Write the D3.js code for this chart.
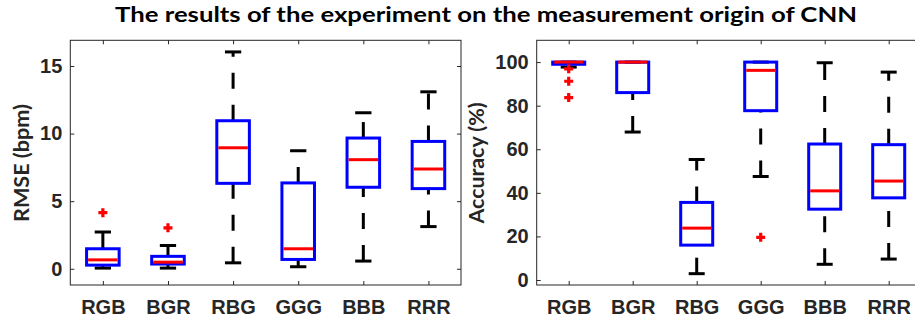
<!DOCTYPE html>
<html>
<head>
<meta charset="utf-8">
<script src="https://cdn.jsdelivr.net/npm/d3@7"></script>
<style>
  body { margin: 0; background: #fff; }
  svg { display: block; font-family: Lato, "Open Sans", sans-serif; }
  .tick text { font-size: 20px; font-weight: bold; fill: #262626; }
</style>
</head>
<body>
<svg id="chart"></svg>
<script>
// categories
const categories = ['RGB', 'BGR', 'RBG', 'GGG', 'BBB', 'RRR'];

// RMSE (bpm) box stats
const rmseLo  = [0.05, 0.05, 0.44, 0.15, 0.57, 3.12];
const rmseQ1  = [0.27, 0.35, 6.32, 0.69, 6.03, 5.93];
const rmseMed = [0.66, 0.49, 8.95, 1.48, 8.07, 7.38];
const rmseQ3  = [1.48, 0.92, 10.95, 6.35, 9.67, 9.42];
const rmseHi  = [2.72, 1.72, 16.04, 8.73, 11.54, 13.09];
const rmseOut = [[4.15], [3.03], [], [], [], []];
const rmseTicks = [0, 5, 10, 15];

// Accuracy (%) box stats
const accLo  = [97.7, 67.9, 2.9, 47.5, 7.2, 9.6];
const accQ1  = [99.0, 86.0, 16.0, 77.7, 32.5, 37.7];
const accMed = [100, 100, 23.8, 96.2, 40.9, 45.4];
const accQ3  = [100, 100, 35.6, 100, 62.4, 62.1];
const accHi  = [100, 100, 55.3, 100, 99.7, 95.4];
const accOut = [[96.9, 91.2, 83.7], [], [], [19.6], [], []];
const accTicks = [0, 20, 40, 60, 80, 100];

let width = 915;
let height = 322;
let plotTop = 40.3, plotBottom = 285;

let svg = d3.select('#chart')
    .attr('width', width)
    .attr('height', height);

svg.append('text')
    .attr('x', 486)
    .attr('y', 21.5)
    .attr('text-anchor', 'middle')
    .attr('font-size', 20)
    .attr('font-weight', 'bold')
    .attr('fill', '#000')
    .attr('textLength', 742)
    .attr('lengthAdjust', 'spacingAndGlyphs')
    .text('The results of the experiment on the measurement origin of CNN');

let drawPanel = (opt) => {
    let x = d3.scaleLinear().domain([0.5, 6.5]).range([opt.left, opt.right]);
    let y = d3.scaleLinear().domain(opt.domain).range([plotBottom, plotTop]);
    let bw = x(0.5 + 0.25) - x(0.5); // half box width in px
    let cw = bw / 2;                 // half cap width

    let g = svg.append('g');

    let rows = categories.map((c, i) => ({
        i: i + 1, lo: opt.lo[i], q1: opt.q1[i], med: opt.med[i],
        q3: opt.q3[i], hi: opt.hi[i], out: opt.out[i]
    }));

    // whiskers (drawn from lower value upward)
    let wh = g.append('g')
        .attr('stroke', '#000')
        .attr('stroke-width', 3)
        .attr('stroke-dasharray', '16,16')
        .attr('fill', 'none');
    rows.forEach(d => {
        if (d.q1 > d.lo) {
            wh.append('line')
                .attr('x1', x(d.i)).attr('x2', x(d.i))
                .attr('y1', y(d.lo)).attr('y2', y(d.q1));
        }
        if (d.hi > d.q3) {
            wh.append('line')
                .attr('x1', x(d.i)).attr('x2', x(d.i))
                .attr('y1', y(d.q3)).attr('y2', y(d.hi));
        }
    });

    // caps
    let caps = g.append('g').attr('stroke', '#000').attr('stroke-width', 3);
    rows.forEach(d => {
        [d.lo, d.hi].forEach(v => {
            caps.append('line')
                .attr('x1', x(d.i) - cw).attr('x2', x(d.i) + cw)
                .attr('y1', y(v)).attr('y2', y(v));
        });
    });

    // boxes
    g.append('g').selectAll('rect')
        .data(rows)
        .enter()
        .append('rect')
        .attr('x', d => x(d.i) - bw)
        .attr('width', 2 * bw)
        .attr('y', d => y(d.q3))
        .attr('height', d => Math.max(y(d.q1) - y(d.q3), 0.5))
        .attr('fill', 'none')
        .attr('stroke', '#0000ff')
        .attr('stroke-width', 3);

    // medians
    g.append('g').selectAll('line')
        .data(rows)
        .enter()
        .append('line')
        .attr('x1', d => x(d.i) - bw + 1.5)
        .attr('x2', d => x(d.i) + bw - 1.5)
        .attr('y1', d => y(d.med))
        .attr('y2', d => y(d.med))
        .attr('stroke', '#ff0000')
        .attr('stroke-width', 3);

    // outliers
    let pts = [];
    rows.forEach(d => d.out.forEach(v => pts.push({ i: d.i, v: v })));
    g.append('g').selectAll('path')
        .data(pts)
        .enter()
        .append('path')
        .attr('transform', d => 'translate(' + x(d.i) + ',' + y(d.v) + ')')
        .attr('d', 'M-4.5,0H4.5M0,-4.5V4.5')
        .attr('stroke', '#ff0000')
        .attr('stroke-width', 3.2)
        .attr('fill', 'none');

    // axes
    let xAxis = g.append('g')
        .attr('transform', 'translate(0,' + plotBottom + ')')
        .call(d3.axisBottom(x).tickValues([1, 2, 3, 4, 5, 6])
            .tickFormat(d => categories[d - 1]).tickSize(-4).tickPadding(15));
    let yAxis = g.append('g')
        .attr('transform', 'translate(' + opt.left + ',0)')
        .call(d3.axisLeft(y).tickValues(opt.ticks).tickSize(-4).tickPadding(8));
    let xTop = g.append('g')
        .attr('transform', 'translate(0,' + plotTop + ')')
        .call(d3.axisTop(x).tickValues([1, 2, 3, 4, 5, 6]).tickFormat('').tickSize(-4));
    let yRight = g.append('g')
        .attr('transform', 'translate(' + opt.right + ',0)')
        .call(d3.axisRight(y).tickValues(opt.ticks).tickFormat('').tickSize(-4));
    [xAxis, yAxis, xTop, yRight].forEach(a => {
        a.select('.domain').remove();
        a.selectAll('line').attr('stroke', '#262626');
    });

    g.append('rect')
        .attr('x', opt.left).attr('y', plotTop)
        .attr('width', opt.right - opt.left).attr('height', plotBottom - plotTop)
        .attr('fill', 'none')
        .attr('stroke', '#262626')
        .attr('stroke-width', 1);

    svg.append('text')
        .attr('transform', 'translate(' + opt.labelX + ',163) rotate(-90)')
        .attr('text-anchor', 'middle')
        .attr('font-size', 21)
        .attr('font-weight', 'bold')
        .attr('fill', '#262626')
        .attr('textLength', opt.labelLen)
        .attr('lengthAdjust', 'spacingAndGlyphs')
        .text(opt.label);
};

drawPanel({
    left: 70.3, right: 461, domain: [-1.2, 16.9],
    lo: rmseLo, q1: rmseQ1, med: rmseMed, q3: rmseQ3, hi: rmseHi, out: rmseOut,
    ticks: rmseTicks, label: 'RMSE (bpm)', labelX: 29, labelLen: 118
});

drawPanel({
    left: 536.7, right: 920.7, domain: [-2.3, 110],
    lo: accLo, q1: accQ1, med: accMed, q3: accQ3, hi: accHi, out: accOut,
    ticks: accTicks, label: 'Accuracy (%)', labelX: 483.5, labelLen: 121
});
</script>
</body>
</html>
